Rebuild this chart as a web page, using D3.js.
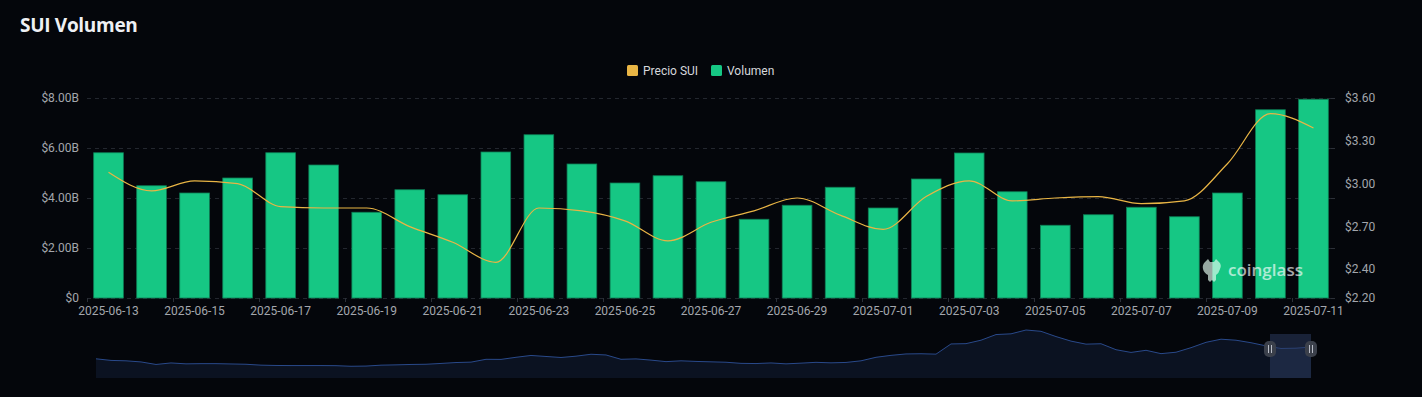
<!DOCTYPE html>
<html>
<head>
<meta charset="utf-8">
<script src="https://d3js.org/d3.v7.min.js"></script>
<style>
  html, body { margin: 0; padding: 0; background: #04060b; }
  svg { display: block; }
</style>
</head>
<body>
<script>
// daily dates shown on the category axis
let dates = ["2025-06-13", "2025-06-14", "2025-06-15", "2025-06-16", "2025-06-17", "2025-06-18",
    "2025-06-19", "2025-06-20", "2025-06-21", "2025-06-22", "2025-06-23", "2025-06-24",
    "2025-06-25", "2025-06-26", "2025-06-27", "2025-06-28", "2025-06-29", "2025-06-30",
    "2025-07-01", "2025-07-02", "2025-07-03", "2025-07-04", "2025-07-05", "2025-07-06",
    "2025-07-07", "2025-07-08", "2025-07-09", "2025-07-10", "2025-07-11"];

// volume in billions of USD
let volume = [5.81, 4.49, 4.20, 4.80, 5.81, 5.32, 3.43, 4.33, 4.13, 5.84, 6.53, 5.36,
    4.60, 4.89, 4.65, 3.15, 3.71, 4.43, 3.60, 4.76, 5.80, 4.25, 2.91, 3.33,
    3.63, 3.25, 4.20, 7.53, 7.95];

// SUI price in USD
let price = [3.08, 2.95, 3.02, 3.00, 2.84, 2.83, 2.83, 2.70, 2.59, 2.45, 2.83, 2.81,
    2.74, 2.60, 2.73, 2.81, 2.90, 2.78, 2.68, 2.91, 3.02, 2.88, 2.90, 2.91,
    2.86, 2.88, 3.14, 3.49, 3.39];

let volumeTicks = [0, 2, 4, 6, 8];
let priceTicks = [2.2, 2.4, 2.7, 3.0, 3.3, 3.6];

// overview series in the zoom slider (relative units)
let overview = [19.0, 17.4, 17.0, 15.9, 13.4, 14.9, 14.0, 14.2, 14.2, 13.9, 13.6, 12.7,
    12.4, 12.3, 12.3, 12.3, 12.2, 11.6, 11.8, 12.7, 13.0, 13.4, 13.6, 14.4,
    15.3, 15.7, 18.5, 18.4, 20.5, 22.3, 21.3, 20.3, 21.6, 23.5, 22.8, 18.5,
    18.9, 17.7, 16.2, 17.0, 16.4, 16.0, 15.6, 14.5, 14.3, 14.9, 14.0, 14.7,
    15.5, 15.0, 15.4, 17.0, 20.5, 22.4, 23.8, 24.0, 23.6, 33.7, 34.0, 37.4,
    43.0, 43.7, 47.5, 46.2, 41.0, 36.5, 33.5, 33.9, 28.0, 25.3, 27.4, 24.1,
    25.5, 30.0, 35.3, 38.4, 37.4, 34.9, 31.8, 29.2, 29.5, 30.7];

let width = 1422,
    height = 397,
    margins = {top: 98, right: 100, bottom: 99, left: 87},
    textColour = "#a3a6ad",
    barColour = "#16c784",
    lineColour = "#e9b545",
    axisFont = "Roboto, 'DejaVu Sans', sans-serif";

let svg = d3.select("body").append("svg")
    .attr("width", width)
    .attr("height", height);

// title
svg.append("text")
    .attr("x", 20)
    .attr("y", 32)
    .attr("fill", "#eef0f4")
    .attr("font-family", "'Open Sans', 'DejaVu Sans', sans-serif")
    .attr("font-weight", "bold")
    .attr("font-size", 19)
    .attr("letter-spacing", -0.3)
    .text("SUI Volumen");

// scales
let xScale = d3.scaleBand(dates, [margins.left, width - margins.right + 13])
    .paddingInner(0.31)
    .paddingOuter(0.155);

let yVolume = d3.scaleLinear([0, 8], [height - margins.bottom, margins.top]);
let yPrice = d3.scaleLinear([2.2, 3.6], [height - margins.bottom, margins.top]);

let plotLeft = xScale.range()[0],
    plotRight = xScale.range()[1];

// grid lines
svg.append("g")
    .selectAll("line")
    .data(volumeTicks)
    .join("line")
    .attr("x1", plotLeft)
    .attr("x2", plotRight)
    .attr("y1", d => Math.round(yVolume(d)) + 0.5)
    .attr("y2", d => Math.round(yVolume(d)) + 0.5)
    .attr("stroke", "#23272f")
    .attr("stroke-dasharray", "4,4");

// left axis labels
svg.append("g")
    .selectAll("text")
    .data(volumeTicks)
    .join("text")
    .attr("x", plotLeft - 8)
    .attr("y", d => yVolume(d) + 4)
    .attr("text-anchor", "end")
    .attr("fill", textColour)
    .attr("font-family", axisFont)
    .attr("font-size", 12)
    .text(d => d === 0 ? "$0" : "$" + d.toFixed(2) + "B");

// right axis labels and small ticks
svg.append("g")
    .selectAll("text")
    .data(priceTicks)
    .join("text")
    .attr("x", plotRight + 10)
    .attr("y", d => yPrice(d) + 4)
    .attr("fill", textColour)
    .attr("font-family", axisFont)
    .attr("font-size", 12)
    .text(d => "$" + d.toFixed(2));

svg.append("g")
    .selectAll("line")
    .data(volumeTicks)
    .join("line")
    .attr("x1", plotRight - 4)
    .attr("x2", plotRight)
    .attr("y1", d => Math.round(yVolume(d)) + 0.5)
    .attr("y2", d => Math.round(yVolume(d)) + 0.5)
    .attr("stroke", "#2c3038");

// bars
svg.append("g")
    .selectAll("rect")
    .data(volume)
    .join("rect")
    .attr("x", (d, i) => xScale(dates[i]))
    .attr("y", d => yVolume(d))
    .attr("width", xScale.bandwidth())
    .attr("height", d => yVolume(0) - yVolume(d))
    .attr("fill", barColour)
    .attr("stroke", "#0d7e55")
    .attr("stroke-width", 0.8);

// x axis labels, every second day
let bottomDates = dates.filter((d, i) => i % 2 === 0);
svg.append("g")
    .selectAll("line")
    .data(bottomDates)
    .join("line")
    .attr("x1", d => Math.round(xScale(d) - xScale.step() * 0.155) + 0.5)
    .attr("x2", d => Math.round(xScale(d) - xScale.step() * 0.155) + 0.5)
    .attr("y1", yVolume(0))
    .attr("y2", yVolume(0) + 4)
    .attr("stroke", "#2c3038");

svg.append("g")
    .selectAll("text")
    .data(bottomDates)
    .join("text")
    .attr("x", d => xScale(d) + xScale.bandwidth() / 2)
    .attr("y", yVolume(0) + 17)
    .attr("text-anchor", "middle")
    .attr("fill", textColour)
    .attr("font-family", axisFont)
    .attr("font-size", 12)
    .text(d => d);

// watermark
let mark = svg.append("g")
    .attr("transform", "translate(1201, 259)")
    .attr("opacity", 0.65);
mark.append("path")
    .attr("d", "M4,3 L7,0 L9,3 L13,3 L15,0 L18,3 Q21,6 19,10 Q18,14 15,16 L15,21 L13,23 L11,21 L9,23 L7,21 L7,16 Q3,14 2,10 Q1,6 4,3 Z")
    .attr("fill", "#e6fff3");
mark.append("text")
    .attr("x", 27)
    .attr("y", 17)
    .attr("fill", "#ffffff")
    .attr("font-family", "'Open Sans', 'DejaVu Sans', sans-serif")
    .attr("font-weight", 600)
    .attr("font-size", 17)
    .text("coinglass");

// price line
let line = d3.line()
    .x((d, i) => xScale(dates[i]) + xScale.bandwidth() / 2)
    .y(d => yPrice(d))
    .curve(d3.curveMonotoneX);

svg.append("path")
    .datum(price)
    .attr("d", line)
    .attr("fill", "none")
    .attr("stroke", lineColour)
    .attr("stroke-width", 1.2);

// legend
let legendItems = [{name: "Precio SUI", colour: lineColour, x: 627},
    {name: "Volumen", colour: barColour, x: 711}];
let legend = svg.append("g")
    .selectAll("g")
    .data(legendItems)
    .join("g")
    .attr("transform", d => `translate(${d.x}, 65)`);
legend.append("rect")
    .attr("width", 11)
    .attr("height", 11)
    .attr("rx", 1.5)
    .attr("fill", d => d.colour);
legend.append("text")
    .attr("x", 16)
    .attr("y", 10)
    .attr("fill", "#d6d8dc")
    .attr("font-family", axisFont)
    .attr("font-size", 12)
    .text(d => d.name);

// zoom slider
let sliderLeft = 96, sliderRight = 1311, sliderTop = 334, sliderBottom = 378;
let xSlider = d3.scaleLinear([0, overview.length - 1], [sliderLeft, sliderRight]);
let ySlider = d3.scaleLinear([0, d3.max(overview)], [sliderBottom, 330]);

svg.append("path")
    .datum(overview)
    .attr("d", d3.area()
        .x((d, i) => xSlider(i))
        .y0(sliderBottom)
        .y1(d => ySlider(d)))
    .attr("fill", "#0b1221");

svg.append("path")
    .datum(overview)
    .attr("d", d3.line()
        .x((d, i) => xSlider(i))
        .y(d => ySlider(d)))
    .attr("fill", "none")
    .attr("stroke", "#29498a")
    .attr("stroke-width", 1);

let selLeft = 1270;
svg.append("rect")
    .attr("x", selLeft)
    .attr("y", sliderTop)
    .attr("width", sliderRight - selLeft)
    .attr("height", sliderBottom - sliderTop)
    .attr("fill", "#2b3a5e")
    .attr("opacity", 0.55);

let handles = svg.append("g")
    .selectAll("g")
    .data([selLeft, sliderRight])
    .join("g")
    .attr("transform", d => `translate(${d}, 349)`);
handles.append("rect")
    .attr("x", -6)
    .attr("y", -8)
    .attr("width", 12)
    .attr("height", 16)
    .attr("rx", 5)
    .attr("fill", "#3b404b");
handles.selectAll("line")
    .data([-1.5, 1.5])
    .join("line")
    .attr("x1", d => d)
    .attr("x2", d => d)
    .attr("y1", -4)
    .attr("y2", 4)
    .attr("stroke", "#b8bcc6")
    .attr("stroke-width", 1);
</script>
</body>
</html>
